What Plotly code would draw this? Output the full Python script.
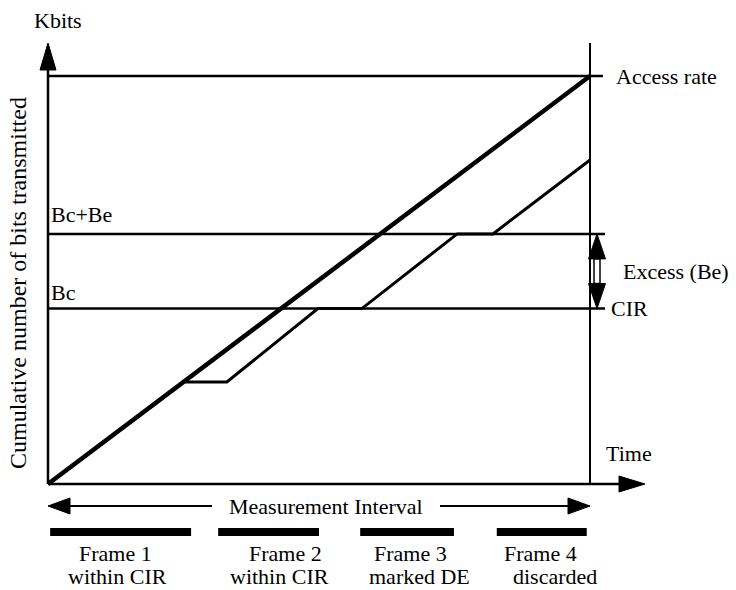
import plotly.graph_objects as go

# ---------------- data (time units: measurement interval = 100; bits: access rate = 100)
access_rate = 100
bc = 43
bc_be = 61.3
interval_end = 100
main_t = [0, 100]
main_bits = [0, 100]
step_t = [0, 25, 33, 49.8, 57.9, 75.5, 82.1, 100]
step_bits = [0, 25, 25, 43, 43, 61.3, 61.3, 79.4]
frame_start = [0.4, 31.4, 57.6, 82.8]
frame_end = [26.4, 50.0, 74.9, 99.4]
frame_names = ["Frame 1", "Frame 2", "Frame 3", "Frame 4"]
frame_status = ["within CIR", "within CIR", "marked DE", "discarded"]
frame_name_t = [12.4, 43.8, 66.8, 90.8]
frame_status_t = [12.8, 42.8, 68.6, 93.5]

# ---------------- layout helpers (pixel scale of the drawing)
W, H = 736, 590
X0, Y0 = 48, 484          # pixel position of origin
SX = 542 / interval_end   # px per time unit
SY = 408 / access_rate    # px per bit unit


def dx(px):
    return px / SX


def dy(px):
    return px / SY


def tx(px):  # pixel x -> data
    return (px - X0) / SX


def ty(py):  # pixel y -> data
    return (Y0 - py) / SY


FONT = "Liberation Serif"
FS = 22
shapes = []
ann = []


def line(x0, y0, x1, y1, w=2.5):
    shapes.append(dict(type="line", x0=x0, y0=y0, x1=x1, y1=y1,
                       line=dict(color="black", width=w)))


def tri(pts):
    p = "M " + " L ".join(f"{a},{b}" for a, b in pts) + " Z"
    shapes.append(dict(type="path", path=p, fillcolor="black",
                       line=dict(color="black", width=1)))


def text(x, y, s, size=FS, xa="left", ya="middle", angle=0):
    ann.append(dict(x=x, y=y, xref="x", yref="y", text=s, showarrow=False,
                    xanchor=xa, yanchor=ya, textangle=angle, borderpad=0,
                    font=dict(family=FONT, size=size, color="black")))


fig = go.Figure()

# axes
y_top = ty(43)
line(0, 0, 0, ty(68), 2.5)
tri([(0, y_top), (dx(-8), ty(70)), (dx(8), ty(70))])
x_tip = tx(645)
line(0, 0, tx(622), 0, 2.5)
tri([(x_tip, 0), (tx(619), dy(8)), (tx(619), dy(-8))])
# right boundary of the measurement interval
line(interval_end, 0, interval_end, ty(43), 2)

# horizontal reference levels
line(0, access_rate, tx(603), access_rate, 2.5)
line(0, bc_be, tx(605), bc_be, 2.5)
line(0, bc, tx(605), bc, 2.5)

# cumulative bits curves
fig.add_trace(go.Scatter(x=main_t, y=main_bits, mode="lines",
                         line=dict(color="black", width=4.5), hoverinfo="skip"))
fig.add_trace(go.Scatter(x=step_t, y=step_bits, mode="lines",
                         line=dict(color="black", width=3), hoverinfo="skip"))

# excess double arrow
ax = tx(597)
head = dy(25)
hw = dx(8.5)
tri([(ax, bc_be), (ax - hw, bc_be - head), (ax + hw, bc_be - head)])
tri([(ax, bc), (ax - hw, bc + head), (ax + hw, bc + head)])
shapes.append(dict(type="rect", x0=ax - dx(3), x1=ax + dx(3),
                   y0=bc + head, y1=bc_be - head,
                   line=dict(color="black", width=1.5), fillcolor="white"))

# measurement interval arrow
my = ty(506)
ah = dx(22)
line(tx(66), my, tx(212), my, 2)
line(tx(440), my, interval_end - ah + dx(2), my, 2)
tri([(0, my), (ah, my + dy(8)), (ah, my - dy(8))])
tri([(interval_end, my), (interval_end - ah, my + dy(8)), (interval_end - ah, my - dy(8))])
text((tx(212) + tx(440)) / 2, my, "Measurement Interval", xa="center")

# frame bars
for s, e in zip(frame_start, frame_end):
    shapes.append(dict(type="rect", x0=s, x1=e, y0=ty(536), y1=ty(528),
                       fillcolor="black", line=dict(width=0)))
for xn, xs, n, st in zip(frame_name_t, frame_status_t, frame_names, frame_status):
    text(xn, ty(553), n, xa="center")
    text(xs, ty(576), st, xa="center")

# labels
text(tx(33), ty(20), "Kbits")
text(tx(615), access_rate, "Access rate")
text(tx(622), (bc + bc_be) / 2, "Excess (Be)")
text(tx(610), bc, "CIR")
text(tx(605), ty(453), "Time")
text(tx(50), bc_be + dy(6), "Bc+Be", ya="bottom")
text(tx(50), bc + dy(3), "Bc", ya="bottom")
text(tx(18), ty(283), "Cumulative number of bits transmitted", size=24, angle=-90, xa="center")

fig.update_layout(
    width=W, height=H, margin=dict(l=0, r=0, t=0, b=0),
    paper_bgcolor="white", plot_bgcolor="white", showlegend=False,
    xaxis=dict(range=[tx(0), tx(W)], visible=False, fixedrange=True),
    yaxis=dict(range=[ty(H), ty(0)], visible=False, fixedrange=True),
    shapes=shapes, annotations=ann,
)
fig.write_html("out.html", config={"displayModeBar": False},
               post_script="document.body.style.margin='0px';document.body.style.overflow='hidden';")
